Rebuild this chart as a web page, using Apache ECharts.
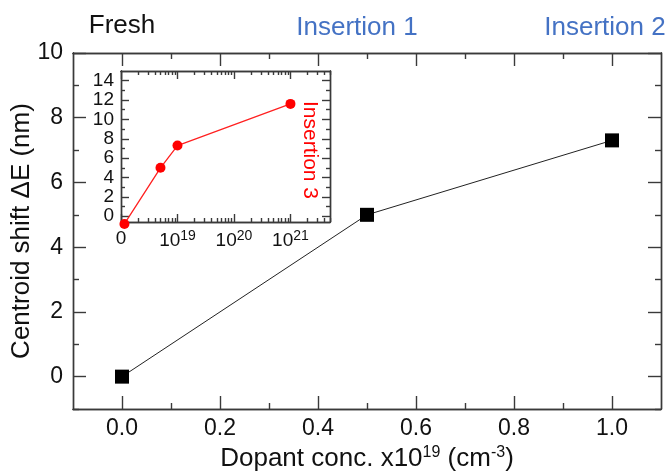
<!DOCTYPE html>
<html><head><meta charset="utf-8">
<script src="https://cdn.jsdelivr.net/npm/echarts@6/dist/echarts.min.js"></script>
<style>html,body{margin:0;padding:0;background:#fff}#c{width:668px;height:473px}</style>
</head><body><div id="c"></div>
<script>
// Main chart data
const mainX = [0, 0.5, 1.0];
const mainY = [0, 5.0, 7.3];
const mainXTicks = [0, 0.2, 0.4, 0.6, 0.8, 1.0];
const mainXMinor = [0.1, 0.3, 0.5, 0.7, 0.9];
const mainYTicks = [0, 2, 4, 6, 8, 10];
const mainYMinor = [-1, 1, 3, 5, 7, 9];
// Inset data (dopant concentration in cm^-3, centroid shift nm)
const insetX = [1.15e18, 5e18, 1e19, 1e21];
const insetY = [-0.8, 5.0, 7.3, 11.6];
const insetXDecades = [1e18, 1e19, 1e20, 1e21];
const insetXLabels = ['0', '10{s|19}', '10{s|20}', '10{s|21}'];
const insetYTicks = [0, 2, 4, 6, 8, 10, 12, 14];
const insetYMinor = [1, 3, 5, 7, 9, 11, 13];
const stageLabels = ['Fresh', 'Insertion 1', 'Insertion 2', 'Insertion 3'];

const FONT = 'Liberation Sans, Arial, sans-serif';
const AX = '#3a3a3a';

const lg = Math.log10;
const insetMinorVals = [];
[1e18, 1e19, 1e20, 1e21].forEach(d => { for (let k = 2; k <= 9; k++) { const v = lg(k * d); if (v < 21.7) insetMinorVals.push(v); } });

const chart = echarts.init(document.getElementById('c'), null, {renderer: 'canvas'});

function axisBase(extra) {
  return Object.assign({
    type: 'value',
    axisLine: {show: true, onZero: false, lineStyle: {color: AX, width: 1.4}},
    splitLine: {show: false},
    axisLabel: {show: false},
  }, extra);
}
function tickAxis(gridIndex, pos, min, max, vals, len, labelOpts) {
  const o = axisBase({
    gridIndex, position: pos, min, max,
    axisTick: {show: true, inside: true, length: len, customValues: vals, lineStyle: {color: AX, width: 1.4}},
  });
  if (labelOpts) o.axisLabel = Object.assign({show: true, customValues: vals}, labelOpts);
  return o;
}

const mainLabelStyle = {fontFamily: FONT, fontSize: 23, color: '#111', margin: 8};
const insetLabelStyle = {fontFamily: FONT, fontSize: 19, color: '#111', margin: 7};

const xAxes = [
  Object.assign(tickAxis(0, 'bottom', -0.1, 1.1, mainXTicks, 13, Object.assign({formatter: v => v.toFixed(1)}, mainLabelStyle)), {
    name: 'Dopant conc. x10{s|19} (cm{s|-3})', nameLocation: 'middle', nameGap: 36, nameMoveOverlap: false,
    nameTextStyle: {fontFamily: FONT, fontSize: 26, color: '#111',
      rich: {s: {fontFamily: FONT, fontSize: 16, color: '#111', verticalAlign: 'bottom', padding: [0, 0, 11, 0]}}}
  }),
  tickAxis(0, 'bottom', -0.1, 1.1, mainXMinor, 6),
  tickAxis(0, 'top', -0.1, 1.1, mainXTicks, 13),
  tickAxis(0, 'top', -0.1, 1.1, mainXMinor, 6),
  Object.assign(tickAxis(1, 'bottom', 18, 21.7, insetXDecades.map(lg), 8, Object.assign({
    formatter: v => insetXLabels[Math.round(v) - 18],
    rich: {s: {fontFamily: FONT, fontSize: 14, color: '#111', verticalAlign: 'bottom', padding: [0, 0, 9, 0]}}
  }, insetLabelStyle)), {}),
  tickAxis(1, 'bottom', 18, 21.7, insetMinorVals, 4),
  tickAxis(1, 'top', 18, 21.7, insetXDecades.map(lg), 8),
  tickAxis(1, 'top', 18, 21.7, insetMinorVals, 4),
];
const yAxes = [
  Object.assign(tickAxis(0, 'left', -1, 10, mainYTicks, 13, Object.assign({}, mainLabelStyle, {margin: 10})), {
    name: 'Centroid shift \u0394E (nm)', nameLocation: 'middle', nameGap: 38, nameMoveOverlap: false,
    nameTextStyle: {fontFamily: FONT, fontSize: 26, color: '#111'}
  }),
  tickAxis(0, 'left', -1, 10, mainYMinor, 6),
  tickAxis(0, 'right', -1, 10, mainYTicks, 13),
  tickAxis(0, 'right', -1, 10, mainYMinor, 6),
  tickAxis(1, 'left', -0.6, 15, insetYTicks, 8, insetLabelStyle),
  tickAxis(1, 'left', -0.6, 15, insetYMinor, 4),
  tickAxis(1, 'right', -0.6, 15, insetYTicks, 8),
  tickAxis(1, 'right', -0.6, 15, insetYMinor, 4),
];

chart.setOption({
  animation: false,
  backgroundColor: '#fff',
  grid: [
    {left: 73, top: 53, right: 7, bottom: 64, containLabel: false, outerBoundsMode: 'none'},
    {left: 121, top: 71, right: 338, bottom: 251, containLabel: false, outerBoundsMode: 'none', show: true, backgroundColor: '#fff', borderWidth: 0}
  ],
  xAxis: xAxes,
  yAxis: yAxes,
  series: [
    {type: 'line', xAxisIndex: 0, yAxisIndex: 0, data: mainX.map((x, i) => [x, mainY[i]]),
      symbol: 'rect', symbolSize: 14, itemStyle: {color: '#000'}, lineStyle: {color: '#222', width: 1}, z: 5},
    {type: 'line', xAxisIndex: 4, yAxisIndex: 4, data: insetX.map((x, i) => [lg(x), insetY[i]]), clip: false,
      symbol: 'circle', symbolSize: 10, itemStyle: {color: '#ff0000'}, lineStyle: {color: '#ff2020', width: 1.3}, z: 5}
  ],
  graphic: [
    {type: 'text', x: 122, y: 26, style: {text: stageLabels[0], font: '26px ' + FONT, fill: '#111', textAlign: 'center', textVerticalAlign: 'middle'}},
    {type: 'text', x: 357, y: 28, style: {text: stageLabels[1], font: '26px ' + FONT, fill: '#4472C4', textAlign: 'center', textVerticalAlign: 'middle'}},
    {type: 'text', x: 605, y: 28, style: {text: stageLabels[2], font: '26px ' + FONT, fill: '#4472C4', textAlign: 'center', textVerticalAlign: 'middle'}},
    {type: 'text', x: 310, y: 150, rotation: -Math.PI / 2, z: 10, style: {text: stageLabels[3], font: '21px ' + FONT, fill: '#ff0000', textAlign: 'center', textVerticalAlign: 'middle'}}
  ]
});
</script></body></html>
